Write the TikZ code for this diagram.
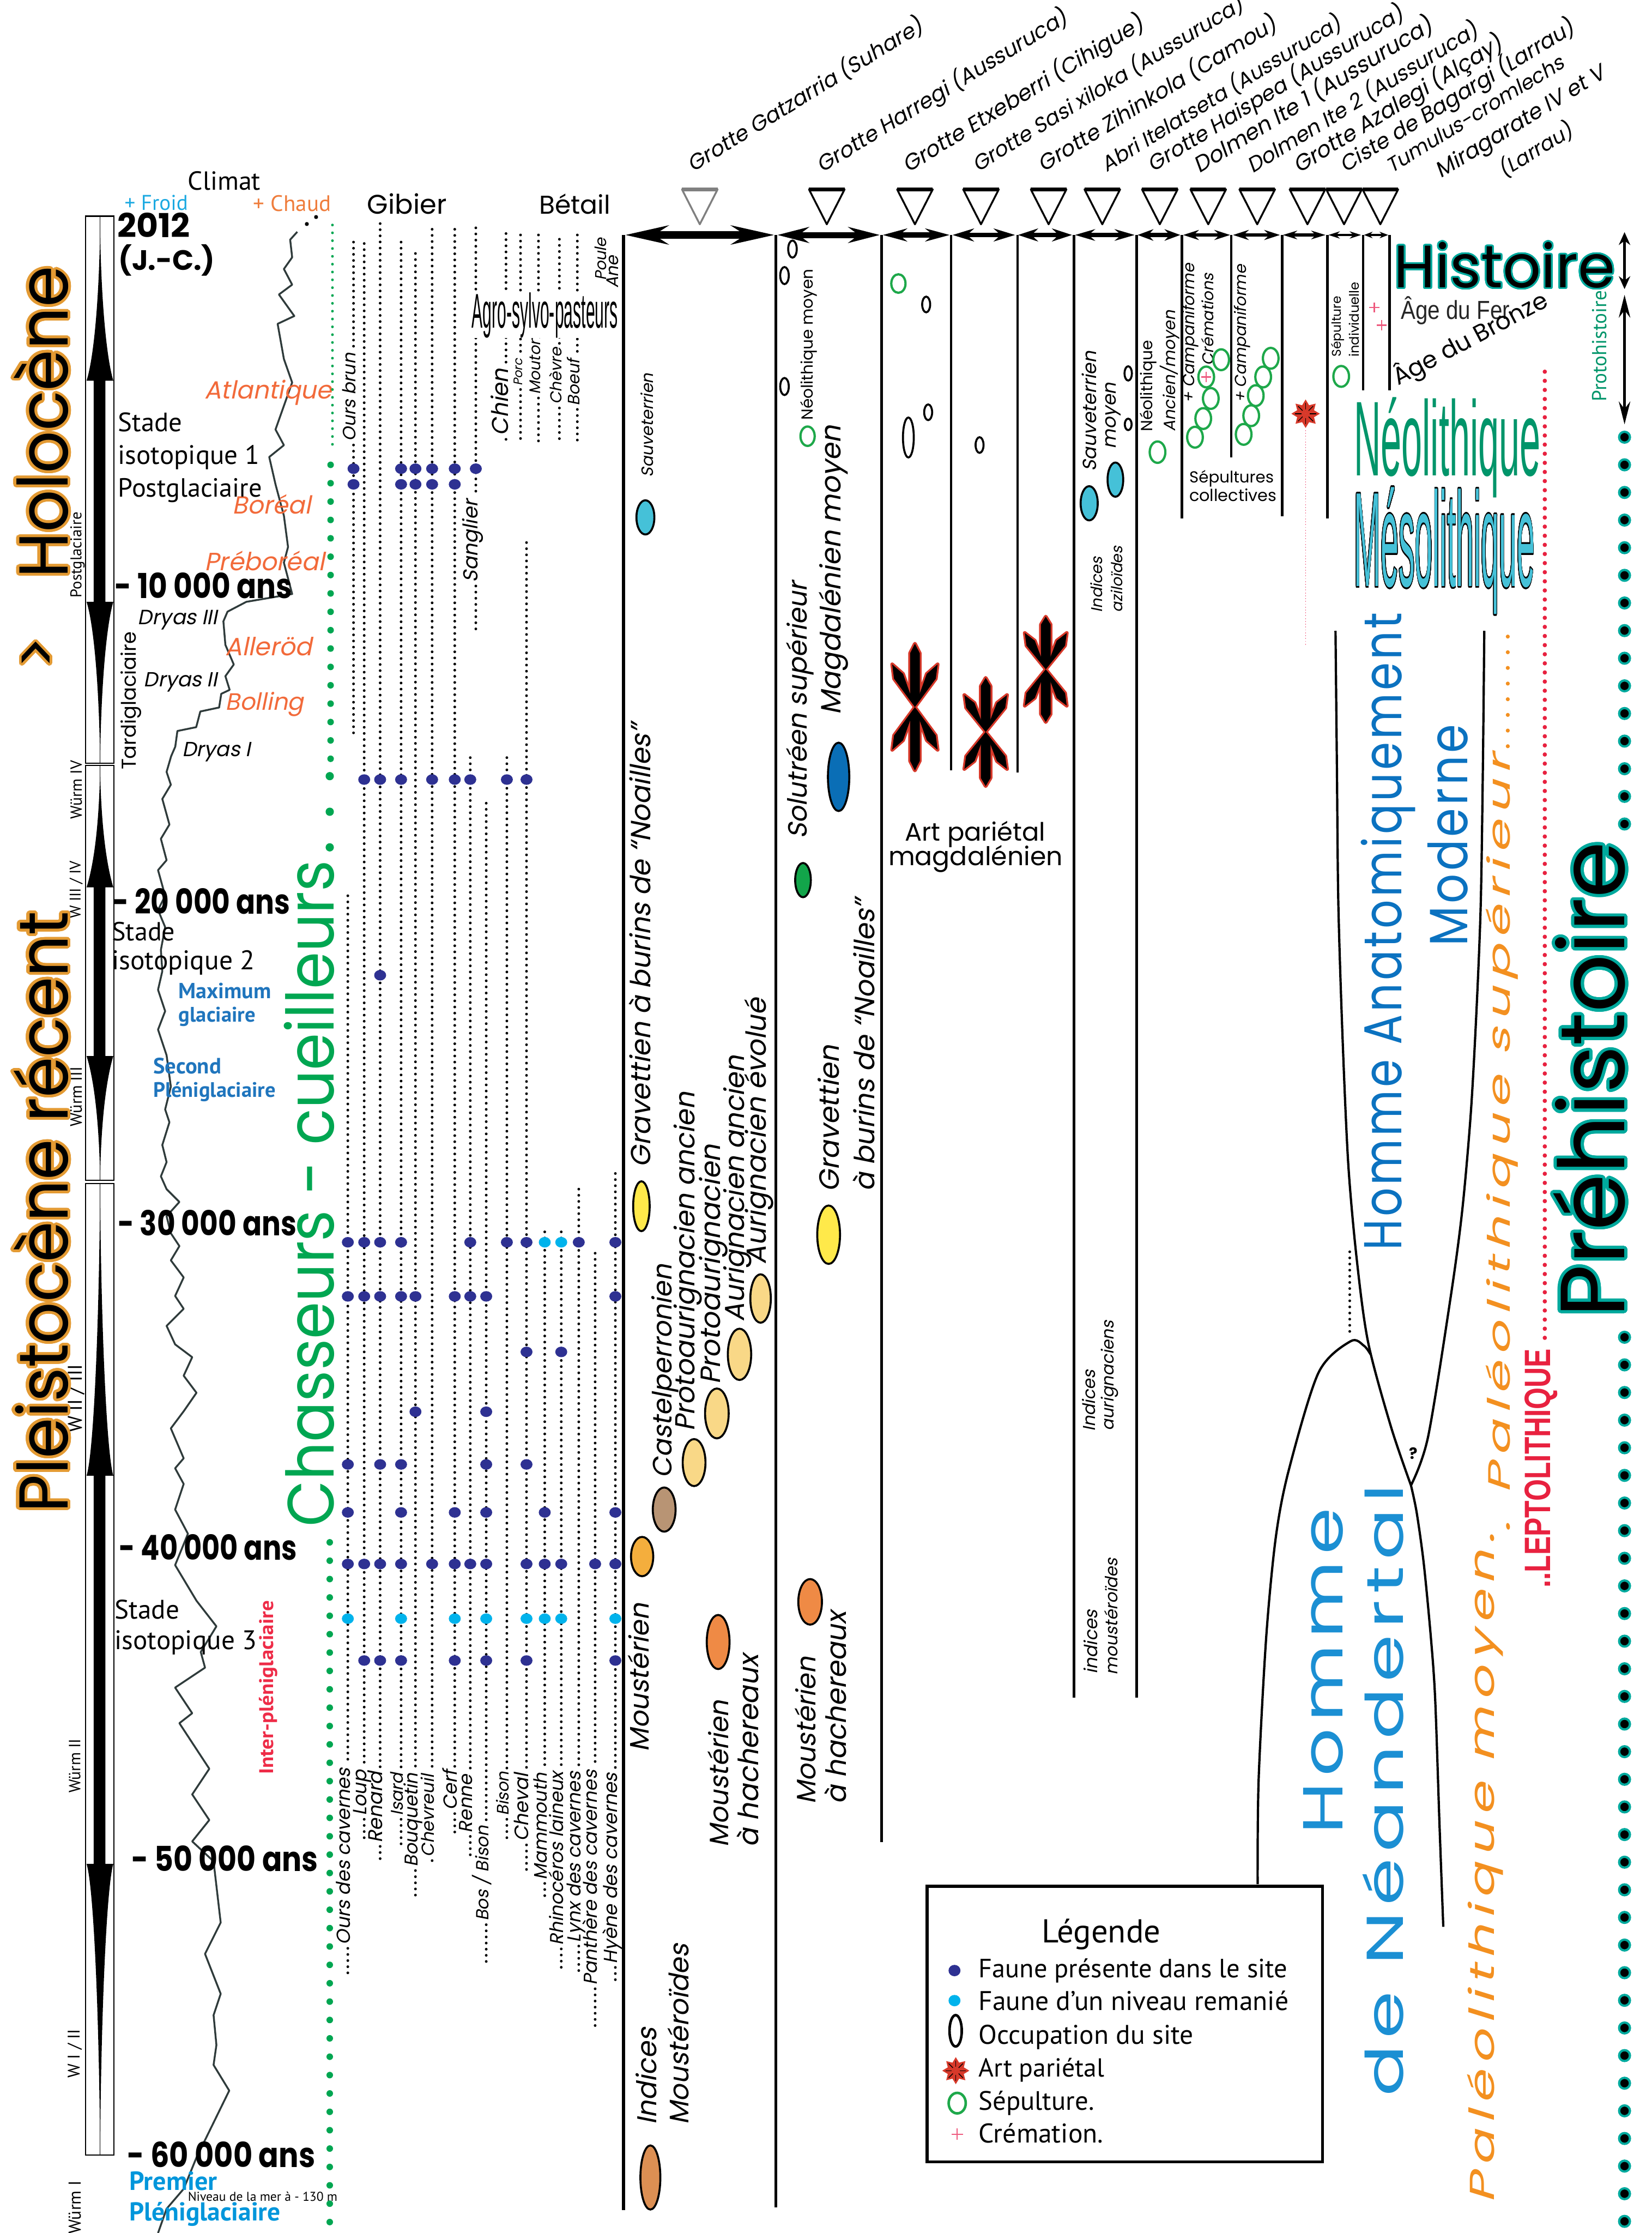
\documentclass[tikz,border=0pt]{standalone}
\usepackage{fontspec}
\usepackage{graphicx}
\usepackage{contour}
\usetikzlibrary{arrows.meta}
\setmainfont{Poppins}
\newfontfamily\pop{Poppins}
\newfontfamily\popit{Poppins}[FakeSlant=0.2]
\newfontfamily\myr{PT Sans}
\newfontfamily\nar{Liberation Sans}
\contournumber{32}
\definecolor{navy}{HTML}{2E3192}
\definecolor{cyandot}{HTML}{00B3EC}
\definecolor{orlab}{HTML}{F26A3A}
\definecolor{holo}{HTML}{E39A33}
\definecolor{froid}{HTML}{1BA9E1}
\definecolor{chaud}{HTML}{EF7D3C}
\definecolor{bluelab}{HTML}{1F75BD}
\definecolor{blue2}{HTML}{0096DB}
\definecolor{redlab}{HTML}{EE2B47}
\definecolor{greenc}{HTML}{00A651}
\definecolor{sepgreen}{HTML}{1EA84A}
\definecolor{pinkx}{HTML}{EE5A7E}
\definecolor{artred}{HTML}{D7392A}
\definecolor{cyanell}{HTML}{45C1D8}
\definecolor{yellowell}{HTML}{FFE94A}
\definecolor{paleyel}{HTML}{F9D887}
\definecolor{orangell}{HTML}{F4AE3D}
\definecolor{brownell}{HTML}{B89474}
\definecolor{orange2}{HTML}{EF8A45}
\definecolor{tanell}{HTML}{DC8F53}
\definecolor{blueell}{HTML}{0A6EB6}
\definecolor{greenell}{HTML}{12A54A}
\definecolor{neogreen}{HTML}{00956A}
\definecolor{teal2}{HTML}{00A99D}
\definecolor{hamblue}{HTML}{0B72C0}
\definecolor{neablue}{HTML}{1B8FD3}
\definecolor{paleo}{HTML}{F39020}
\definecolor{lepto}{HTML}{E8213F}
\definecolor{curvec}{HTML}{2F3B3B}
\newcommand\fitw[2]{\resizebox{#1pt}{!}{#2}}
\newcommand\fitwh[3]{\resizebox{#1pt}{#2pt}{#3}}
\tikzset{
 dotcol/.style={line width=1.9pt, dash pattern=on 0pt off 4.3pt, line cap=round},
 colline/.style={line width=1.8pt},
 occ/.style={draw=black, line width=1.4pt, fill=white},
 sepul/.style={draw=sepgreen, line width=1.6pt},
 cult/.style={draw=black, line width=1.4pt},
 tx/.style={inner sep=0pt, outer sep=0pt},
 rt/.style={inner sep=0pt, outer sep=0pt, rotate=90},
}
\newcommand\animal[6]{%
  \draw[dotcol] (#1,#2) -- (#1,#4-#5-2.5);
  \draw[dotcol] (#1,#4+2.5) -- (#1,#3);
  \node[tx, rotate=90, anchor=base west] at (#1+1.5,#4) {\fitw{#5}{\popit #6}};}
\newcommand\bararrow[4]{%
 \fill (70.3,#1) .. controls (71,{#1+0.5*(#2-#1)}) and (75,{#2-15}) .. (79.6,#2) -- (74,#2) -- (74,#3) -- (79.6,#3)
   .. controls (75,{#3+15}) and (71,{#4-0.5*(#4-#3)}) .. (70.3,#4)
   .. controls (69.6,{#4-0.5*(#4-#3)}) and (65.6,{#3+15}) .. (60.8,#3) -- (65.8,#3) -- (65.8,#2) -- (60.8,#2)
   .. controls (65.6,{#2-15}) and (69.6,{#1+0.5*(#2-#1)}) .. (70.3,#1) -- cycle;}
\newcommand\artstar[6]{%
 \pgfmathsetmacro\angB{180-#4}\pgfmathsetmacro\angC{180+#4}\pgfmathsetmacro\angD{-#4}%
 \begin{scope}[shift={(#1,#2)}]
  \foreach \r in {90,-90} \draw[artred,line width=2.6pt,line join=round,rotate=\r] (0,0) -- (0.2*#3,3.4) -- (0.85*#3,3.4) -- (#3,0) -- (0.85*#3,-3.4) -- (0.2*#3,-3.4) -- cycle;
  \foreach \r in {#4,\angB,\angC,\angD} \draw[artred,line width=2.6pt,line join=round,rotate=\r] (0,0) -- (0.72*#5,#6) -- (#5,0) -- (0.72*#5,-#6) -- cycle;
  \foreach \r in {90,-90} \fill[black,rotate=\r] (0,0) -- (0.2*#3,3.4) -- (0.85*#3,3.4) -- (#3,0) -- (0.85*#3,-3.4) -- (0.2*#3,-3.4) -- cycle;
  \foreach \r in {#4,\angB,\angC,\angD} \fill[black,rotate=\r] (0,0) -- (0.72*#5,#6) -- (#5,0) -- (0.72*#5,-#6) -- cycle;
 \end{scope}}
\newcommand\redstar[3]{%
 \begin{scope}[shift={(#1,#2)}]
  \foreach \r in {0,45,...,315} \fill[artred,rotate=\r] (0,0) -- (0.5*#3,0.3*#3) -- (#3,0) -- (0.5*#3,-0.3*#3) -- cycle;
  \foreach \r in {0,45,...,315} \draw[black,line width=0.5pt,rotate=\r] (0.3*#3,0) -- (0.75*#3,0);
 \end{scope}}
\begin{document}
\begin{tikzpicture}[x=1pt,y=-1pt]
\useasboundingbox (0,0) rectangle (1160,1568);
\fill[white] (0,0) rectangle (1160,1568);

% ---------- chronology bar ----------
\foreach \a/\b in {151.8/536, 537.4/828.7, 831.2/1513.3} {
  \draw[line width=0.8pt] (60,\a) rectangle (80,\b);
  \draw[line width=0.6pt] (70.3,\a) -- (70.3,\b);
}
\bararrow{158.7}{267.3}{422.6}{535.5}
\bararrow{539}{623.1}{741.5}{828.3}
\bararrow{832.5}{1036.2}{1308.8}{1512.5}

% bar labels
\node[rt] at (54.5,389.6) {\fitw{60}{\myr Postglaciaire}};
\node[rt] at (92,492) {\fitw{97}{\pop Tardiglaciaire}};
\node[rt] at (53.5,554.5) {\fitw{41}{\myr Würm IV}};
\node[rt] at (53.5,624.7) {\fitw{40.5}{\myr W III / IV}};
\node[rt] at (53.5,770) {\fitw{42}{\myr Würm III}};
\node[rt] at (53.5,982) {\fitw{48}{\myr W II / III}};
\node[rt] at (52.5,1240) {\fitw{38}{\myr Würm II}};
\node[rt] at (52.5,1442) {\fitw{34}{\myr W I / II}};
\node[rt] at (52.5,1550) {\fitw{37}{\myr Würm I}};

% big orange titles
\node[tx, rotate=90, anchor=base west] at (47.5,406) {\fitwh{219}{38}{\fontsize{47}{47}\pop\contourlength{1.9pt}\contour{holo}{Holocène}}};
\node[rt] at (29,458.5) {\fitw{23}{\fontsize{47}{47}\pop\contourlength{1.9pt}\contour{holo}{>}}};
\node[tx, rotate=90, anchor=base west] at (47.5,1062) {\fitwh{422}{38}{\fontsize{45}{45}\pop\contourlength{1.9pt}\contour{holo}{Pleistocène récent}}};

% ---------- climate ----------
\node[tx, anchor=base west] at (132,133.4) {\fitw{51}{\myr Climat}};
\node[tx, anchor=base west, text=froid] at (87.5,147.5) {\fitw{44.5}{\myr + Froid}};
\node[tx, anchor=base west, text=chaud] at (178,148.2) {\fitw{54.5}{\myr + Chaud}};
\node[tx, anchor=base west] at (82.5,166.8) {\fitwh{51}{17.3}{\pop\bfseries 2012}};
\node[tx, anchor=base west] at (83.3,189.5) {\fitw{67.7}{\pop\bfseries (J.-C.)}};

\fill (215.5,157.3) circle (1.4); \fill (222,152.4) circle (1.4);
\draw[curvec, line width=1.3pt, line join=round] plot coordinates {
(208.8,162.8) (203.8,168.3) (205.2,180.7) (199.4,188.9) (205.2,199.9) (195.9,206.8) (206.7,221.9) (195,227.4) (199.4,252.1) (205.2,268.6) (193.5,301.6) (199.4,312.6) (189.1,320.9) (193.5,340.1) (199.4,362.1) (202.3,384.1) (199.4,395.1) (205.2,417.1) (173,422.6) (159.8,429.5) (156.9,436.3) (158.3,452.8) (164.2,466.6) (158.3,474.8) (161.3,484.4) (155.4,487.2) (153.9,496.8) (140.7,499.6) (137.8,510.6) (124.6,513.3) (123.1,524.3) (120.2,531)
(117,542) (120,551) (114,561) (119,579) (113,589) (117,604) (111,611) (116,629) (111,639) (116,651) (113,667) (114,682) (111,695) (116,710) (111,723) (117,741) (120,763) (116,779) (119,788) (114,804) (117,816) (113,826) (117,835) (126,844) (117,854) (120,866) (126,875) (120,885) (129,897) (123,910) (129,919) (117,931) (123,944) (135,953) (129,966) (138,978) (129,991) (120,1003)
(129,1024) (123,1031) (129,1042) (123,1060) (132,1077) (123,1099) (138,1124) (152,1142) (141,1160) (144,1171) (123,1185) (135,1203) (126,1210) (147,1242) (135,1260) (147,1278) (135,1293) (150,1307) (155,1350) (144,1372) (155,1400) (150,1415) (152,1436) (150,1450) (161,1468) (138,1515) (129,1537) (117,1551) (111,1568)};

% climate phase labels
\node[tx, anchor=base west, text=orlab] at (143.7,280) {\fitw{89.4}{\popit Atlantique}};
\node[tx, anchor=base west, text=orlab] at (163.3,360.7) {\fitw{55}{\popit Boréal}};
\node[tx, anchor=base west, text=orlab] at (143.7,400.6) {\fitw{84.3}{\popit Préboréal}};
\node[tx, anchor=base west] at (96.8,438.5) {\fitw{55.7}{\popit Dryas III}};
\node[tx, anchor=base west, text=orlab] at (158.3,460.5) {\fitw{61}{\popit Alleröd}};
\node[tx, anchor=base west] at (101,482) {\fitw{51.5}{\popit Dryas II}};
\node[tx, anchor=base west, text=orlab] at (158.3,498.5) {\fitw{55}{\popit Bolling}};
\node[tx, anchor=base west] at (128,531) {\fitw{48}{\popit Dryas I}};

% dates
\node[tx, anchor=base west] at (80.6,420) {\fitwh{124.6}{18}{\pop\bfseries - 10 000 ans}};
\node[tx, anchor=base west] at (79,641.8) {\fitwh{124.8}{18}{\pop\bfseries - 20 000 ans}};
\node[tx, anchor=base west] at (82.7,867.6) {\fitwh{125.5}{18}{\pop\bfseries - 30 000 ans}};
\node[tx, anchor=base west] at (83.6,1095.4) {\fitwh{125}{18}{\pop\bfseries - 40 000 ans}};
\node[tx, anchor=base west] at (92.4,1314) {\fitwh{131}{18}{\pop\bfseries - 50 000 ans}};
\node[tx, anchor=base west] at (89.4,1522) {\fitwh{132}{18}{\pop\bfseries - 60 000 ans}};

% stades
\node[tx, anchor=base west] at (83,303) {\fitw{45}{\myr Stade}};
\node[tx, anchor=base west] at (83,326) {\fitw{99.4}{\myr isotopique 1}};
\node[tx, anchor=base west] at (83,349) {\fitw{101}{\myr Postglaciaire}};
\node[tx, anchor=base west] at (78.6,660.5) {\fitw{44.4}{\myr Stade}};
\node[tx, anchor=base west] at (78.6,681) {\fitw{100.3}{\myr isotopique 2}};
\node[tx, anchor=base west] at (80.6,1136.6) {\fitw{45.4}{\myr Stade}};
\node[tx, anchor=base west] at (80.6,1158) {\fitw{99.7}{\myr isotopique 3}};
\node[tx, anchor=base west, text=bluelab] at (125.5,701) {\fitw{65}{\myr\bfseries Maximum}};
\node[tx, anchor=base west, text=bluelab] at (125.5,717.5) {\fitw{54}{\myr\bfseries glaciaire}};
\node[tx, anchor=base west, text=bluelab] at (107.6,754) {\fitw{47.8}{\myr\bfseries Second}};
\node[tx, anchor=base west, text=bluelab] at (107.6,770.5) {\fitw{86}{\myr\bfseries Pléniglaciaire}};
\node[tx, anchor=base west, text=blue2] at (91,1538) {\fitw{61.5}{\myr\bfseries Premier}};
\node[tx, anchor=base west, text=blue2] at (91,1559.5) {\fitw{106}{\myr\bfseries Pléniglaciaire}};
\node[tx, anchor=base west] at (132,1545.5) {\fitw{105}{\myr Niveau de la mer à - 130 m}};
\node[tx, rotate=90, anchor=base west, text=redlab] at (192,1246) {\fitwh{122}{10}{\myr\bfseries Inter-pléniglaciaire}};

% ---------- chasseurs-cueilleurs ----------
\foreach \y in {158,163.5,...,316} \fill[greenc] (233.5,\y) circle (0.95);
\foreach \y in {326.4,339.3,...,534} \fill[greenc] (232.2,\y) circle (2.3);
\foreach \y in {545,570,595} \fill[greenc] (231.6,\y) circle (2.9);
\foreach \y in {1083,1095.9,...,1563} \fill[greenc] (231.6,\y) circle (2.3);
\node[tx, rotate=90, anchor=base west, text=greenc] at (234.6,1072) {\fitwh{468}{35}{\pop Chasseurs - cueilleurs}};

% ---------- gibier / betail ----------
\node[tx, anchor=base west] at (258,150.4) {\fitw{55.7}{\pop Gibier}};
\node[tx, anchor=base west] at (378.8,150.4) {\fitw{50}{\pop Bétail}};

\animal{244.3}{629}{1388}{1365.6}{124}{Ours des cavernes}
\animal{255.8}{171}{1293}{1275}{32}{Loup}
\animal{267}{157}{1307}{1294}{50}{Renard}
\animal{281.7}{170}{1295}{1275}{30}{Isard}
\animal{291.8}{178}{1333}{1311}{66}{Bouquetin}
\animal{303.5}{161}{1306.5}{1304}{58}{Chevreuil}
\animal{319.4}{161}{1290}{1271}{28}{Cerf}
\animal{330.3}{532}{1306}{1287}{41}{Renne}
\animal{341.5}{564}{1379}{1349}{67}{Bos / Bison}
\animal{356}{532}{1294}{1275}{31}{Bison}
\animal{369.8}{381}{1315}{1293}{48}{Cheval}
\animal{382.6}{865}{1334}{1320}{75}{Mammouth}
\animal{394.2}{865}{1384}{1366}{122}{Rhinocéros laineux}
\animal{406.5}{835}{1386}{1364}{120}{Lynx des cavernes}
\animal{418}{880}{1425}{1394}{151}{Panthère des cavernes}
\animal{432.2}{824}{1393}{1379}{134}{Hyène des cavernes}
\animal{248.3}{170}{516}{310}{62}{Ours brun}
\animal{334.2}{160}{445}{409}{58}{Sanglier}
\animal{355.4}{164}{308.5}{306}{47}{Chien}
\animal{365.6}{165}{310}{271}{19}{Porc}
\animal{378.2}{165}{310}{277}{41}{Mouton}
\animal{392.9}{168}{310}{284}{40}{Chèvre}
\animal{405.5}{165}{310}{285}{33}{Boeuf}
\node[rt] at (422,182) {\fitw{30}{\popit Poule}};
\node[rt] at (430.3,191) {\fitw{23}{\popit Ane}};
\node[tx, anchor=base west, fill=white] at (331.3,230.2) {\fitwh{102.7}{24.8}{\nar Agro-sylvo-pasteurs}};

% faune dots
\foreach \x/\y in {248.3/329.1, 281.7/329.1, 291.8/329.1, 303.5/329.1, 319.4/329.1, 334.2/329.1,
 248.3/340.1, 281.7/340.1, 291.8/340.1, 303.5/340.1, 319.4/340.1,
 255.8/547.4, 267/547.4, 281.7/547.4, 303.5/547.4, 319.4/547.4, 330.3/547.4, 356/547.4, 369.8/547.4,
 267/684.8,
 244.3/872.3, 255.8/872.3, 267/872.3, 281.7/872.3, 330.3/872.3, 356/872.3, 369.8/872.3, 406.5/872.3, 432.2/872.3,
 244.3/910.3, 255.8/910.3, 267/910.3, 281.7/910.3, 291.8/910.3, 319.4/910.3, 330.3/910.3, 341.5/910.3, 432.2/910.3,
 369.8/949.3, 394.2/949.3, 291.8/991.3, 341.5/991.3,
 244.3/1028.3, 267/1028.3, 281.7/1028.3, 341.5/1028.3, 369.8/1028.3,
 244.3/1062, 281.7/1062, 319.4/1062, 341.5/1062, 382.6/1062, 432.2/1062,
 244.3/1098.2, 255.8/1098.2, 267/1098.2, 281.7/1098.2, 303.5/1098.2, 319.4/1098.2, 330.3/1098.2, 341.5/1098.2, 369.8/1098.2, 382.6/1098.2, 394.2/1098.2, 418/1098.2, 432.2/1098.2,
 255.8/1166, 267/1166, 281.7/1166, 319.4/1166, 341.5/1166, 369.8/1166, 432.2/1166}
  \fill[navy] (\x,\y) ellipse (4.2 and 3.7);
\foreach \x/\y in {382.6/872.3, 394.2/872.3, 244.3/1136.6, 281.7/1136.6, 319.4/1136.6, 341.5/1136.6, 369.8/1136.6, 382.6/1136.6, 394.2/1136.6, 432.2/1136.6}
  \fill[cyandot] (\x,\y) ellipse (4.2 and 3.7);

% ---------- sites: triangles, arrows, lines ----------
\foreach \cx in {580.7,642.6,689,736.5,774.2,814.6,848.6,883,918.3,944,969.5}
  \draw[line width=1.3pt, line join=round, fill=white] (\cx-12.5,133) -- (\cx+12.5,133) -- (\cx,157.5) -- cycle;
\foreach \cx in {580.7,642.6,689,736.5,774.2,814.6,848.6,883,918.3,944,969.5}
  \draw[line width=2.6pt] (\cx-12.5,133) -- (\cx+12.5,133);
\draw[gray, line width=1.3pt, line join=round, fill=white] (479,133) -- (504,133) -- (491.5,157.5) -- cycle;
\draw[gray, line width=2.6pt] (479,133) -- (504,133);

\draw[line width=5pt, {Stealth[length=30pt,width=13pt]}-{Stealth[length=30pt,width=13pt]}] (439,165) -- (544,165);
\draw[line width=4.2pt, {Stealth[length=22pt,width=11pt]}-{Stealth[length=22pt,width=11pt]}] (546,165) -- (618,165);
\draw[line width=3.5pt, {Stealth[length=17pt,width=9pt]}-{Stealth[length=17pt,width=9pt]}] (620,165) -- (667,165);
\draw[line width=3.2pt, {Stealth[length=15pt,width=9pt]}-{Stealth[length=15pt,width=9pt]}] (669,165) -- (713,165);
\draw[line width=3.2pt, {Stealth[length=14pt,width=9pt]}-{Stealth[length=14pt,width=9pt]}] (715,165) -- (753,165);
\draw[line width=3pt, {Stealth[length=14pt,width=8pt]}-{Stealth[length=14pt,width=8pt]}] (755,165) -- (797,165);
\draw[line width=2.8pt, {Stealth[length=11pt,width=8pt]}-{Stealth[length=11pt,width=8pt]}] (799,165) -- (829,165);
\draw[line width=2.4pt, {Stealth[length=11pt,width=7pt]}-{Stealth[length=11pt,width=7pt]}] (831,165) -- (864,165);
\draw[line width=2.4pt, {Stealth[length=11pt,width=7pt]}-{Stealth[length=11pt,width=7pt]}] (866,165) -- (899,165);
\draw[line width=2pt, {Stealth[length=10pt,width=6pt]}-{Stealth[length=10pt,width=6pt]}] (901,165) -- (931,165);
\draw[line width=1.8pt, {Stealth[length=8pt,width=5pt]}-{Stealth[length=8pt,width=5pt]}] (933,165) -- (956,165);
\draw[line width=1.6pt, {Stealth[length=6pt,width=4.5pt]}-{Stealth[length=6pt,width=4.5pt]}] (958,165) -- (975,165);

\draw[line width=2.2pt] (438,165) -- (438,1552);
\draw[colline] (545,165) -- (545,1550);
\draw[colline] (619.3,165) -- (619.3,1293.6);
\draw[colline] (668,165) -- (668,541);
\draw[colline] (714.7,165) -- (714.7,542.4);
\draw[colline] (754.2,165) -- (754.2,1192);
\draw[colline] (798.4,165) -- (798.4,1192);
\draw[colline] (830,165) -- (830,364);
\draw[colline] (864.8,165) -- (864.8,321);
\draw[colline] (900.6,165) -- (900.6,362.5);
\draw[colline] (932.3,165) -- (932.3,364);
\draw[colline] (957.4,165) -- (957.4,274);
\draw[colline] (976,165) -- (976,274);

% site names
\node[tx, rotate=31.5, anchor=base west] at (486.8,121) {\fitw{191}{\popit Grotte Gatzarria (Suhare)}};
\node[tx, rotate=31.5, anchor=base west] at (577.5,121.6) {\fitw{203.6}{\popit Grotte Harregi (Aussuruca)}};
\node[tx, rotate=31.5, anchor=base west] at (637.9,121.6) {\fitw{195.4}{\popit Grotte Etxeberri (Cihigue)}};
\node[tx, rotate=31.5, anchor=base west] at (686.8,121) {\fitw{220.2}{\popit Grotte Sasi xiloka (Aussuruca)}};
\node[tx, rotate=31.5, anchor=base west] at (733,121) {\fitw{193.5}{\popit Grotte Zihinkola (Camou)}};
\node[tx, rotate=31.5, anchor=base west] at (777.4,121) {\fitw{194.7}{\popit Abri Itelatseta (Aussuruca)}};
\node[tx, rotate=31.5, anchor=base west] at (810,121) {\fitw{207.6}{\popit Grotte Haispea (Aussuruca)}};
\node[tx, rotate=31.5, anchor=base west] at (842.5,122) {\fitw{193.6}{\popit Dolmen Ite 1 (Aussuruca)}};
\node[tx, rotate=31.5, anchor=base west] at (879.7,122) {\fitw{187.4}{\popit Dolmen Ite 2 (Aussuruca)}};
\node[tx, rotate=31.5, anchor=base west] at (912.3,122) {\fitw{169.4}{\popit Grotte Azalegi (Alçay)}};
\node[tx, rotate=31.5, anchor=base west] at (944.8,121.6) {\fitw{190.3}{\popit Ciste de Bagargi (Larrau)}};
\node[tx, rotate=31.5, anchor=base west] at (977.4,122) {\fitw{143.5}{\popit Tumulus-cromlechs}};
\node[tx, rotate=31.5, anchor=base west] at (1012,125.4) {\fitw{136.7}{\popit Miragarate IV et V}};
\node[tx, rotate=31.5, anchor=base west] at (1056.4,124.9) {\fitw{58}{\popit (Larrau)}};

% ---------- column 1 ----------
\node[rt] at (454.3,298.7) {\fitw{73}{\popit Sauveterrien}};
\draw[cult, fill=cyanell] (453.3,363.3) ellipse (6.3 and 12);
\node[rt] at (449.5,664) {\fitw{311.5}{\popit Gravettien à burins de “Noailles”}};
\draw[cult, fill=yellowell] (450.5,847) ellipse (5.8 and 17.5);
\node[rt] at (467,963) {\fitw{150}{\popit Castelperronien}};
\node[rt] at (483,886) {\fitw{238}{\popit Protoaurignacien ancien}};
\node[rt] at (501,888) {\fitw{168.6}{\popit Protoaurignacien}};
\node[rt] at (518,834.6) {\fitw{187}{\popit Aurignacien ancien}};
\node[rt] at (533,794.5) {\fitw{187}{\popit Aurignacien évolué}};
\draw[cult, fill=paleyel] (487.5,1027) ellipse (8 and 16.5);
\draw[cult, fill=paleyel] (503.5,992.5) ellipse (8.3 and 17.5);
\draw[cult, fill=paleyel] (519.4,951) ellipse (8.2 and 18);
\draw[cult, fill=paleyel] (534.2,911.8) ellipse (7.2 and 17);
\draw[cult, fill=brownell] (466.5,1060) ellipse (8 and 15.5);
\draw[cult, fill=orangell] (451,1093) ellipse (7.8 and 13.8);
\node[rt] at (448.5,1178) {\fitw{104}{\popit Moustérien}};
\draw[cult, fill=orange2] (504.4,1153) ellipse (8 and 19);
\node[rt] at (504.5,1245.5) {\fitw{103}{\popit Moustérien}};
\node[rt] at (525,1229.5) {\fitw{135}{\popit à hachereaux}};
\node[rt] at (454,1458) {\fitw{68}{\popit Indices}};
\node[rt] at (476.5,1428.5) {\fitw{127}{\popit Moustéroïdes}};
\draw[cult, fill=tanell] (456.8,1529) ellipse (7 and 22.5);

% ---------- column 2 ----------
\draw[occ] (556.6,174.9) ellipse (3 and 6);
\draw[occ] (551,193.5) ellipse (3 and 6);
\draw[occ] (551,271.4) ellipse (3 and 6);
\node[rt] at (568,242) {\fitw{106}{\pop Néolithique moyen}};
\draw[sepul] (567.2,306.3) ellipse (5 and 6.8);
\node[rt] at (562,498.8) {\fitw{180.5}{\popit Solutréen supérieur}};
\node[rt] at (585.5,400.5) {\fitw{203}{\popit Magdalénien moyen}};
\draw[cult, fill=blueell] (589,545.5) ellipse (7.5 and 24);
\draw[cult, fill=greenell] (564,618) ellipse (5.5 and 12);
\node[rt] at (582,785.5) {\fitw{103}{\popit Gravettien}};
\node[rt] at (606.5,734) {\fitw{205.5}{\popit à burins de “Noailles”}};
\draw[cult, fill=yellowell] (582,867) ellipse (8 and 20.5);
\draw[cult, fill=orange2] (569,1124.8) ellipse (8.3 and 16);
\node[rt] at (565.5,1215.3) {\fitw{103.4}{\popit Moustérien}};
\node[rt] at (586.7,1199.3) {\fitw{135.4}{\popit à hachereaux}};

% ---------- columns 3-5 ----------
\draw[sepul] (631,199.1) ellipse (5 and 6.5);
\draw[occ] (650.5,213.8) ellipse (2.8 and 5.5);
\draw[occ] (651.9,289.5) ellipse (2.8 and 5.5);
\draw[occ] (638,307.2) ellipse (3.8 and 14);
\draw[occ] (688,312.5) ellipse (2.8 and 5.5);
\artstar{642.6}{496.5}{44.5}{62}{34}{3.6}
\artstar{692.3}{514}{38}{60}{30}{3.4}
\artstar{734.5}{470}{37}{60}{29.5}{3.4}
\node[tx] at (684.9,586) {\fitw{98.6}{\pop Art pariétal}};
\node[tx] at (685.2,603) {\fitw{122.3}{\pop magdalénien}};

% ---------- column 6 ----------
\node[rt] at (765,288.8) {\fitw{84.5}{\popit Sauveterrien}};
\node[rt] at (782,292) {\fitw{46.3}{\popit moyen}};
\draw[occ] (792.4,262.2) ellipse (2.6 and 5);
\draw[occ] (792.4,298) ellipse (2.4 and 4);
\draw[cult, fill=cyanell] (765,353.4) ellipse (6 and 12);
\draw[cult, fill=cyanell] (783.4,336.8) ellipse (5.5 and 12);
\node[rt] at (770,410.5) {\fitw{39}{\popit Indices}};
\node[rt] at (784.5,406.8) {\fitw{46.4}{\popit aziloïdes}};
\node[rt] at (764.8,983.5) {\fitw{43}{\popit Indices}};
\node[rt] at (779.4,966) {\fitw{77.5}{\popit aurignaciens}};
\node[rt] at (766,1153) {\fitw{45}{\popit indices}};
\node[rt] at (780.5,1135) {\fitw{82}{\popit moustéroïdes}};

% ---------- columns 7-12 ----------
\node[rt] at (806.3,271) {\fitw{64}{\pop Néolithique}};
\node[rt] at (821.5,260.5) {\fitw{85}{\popit Ancien/moyen}};
\draw[sepul] (813,317.5) ellipse (5.5 and 7.5);
\node[rt] at (836,234) {\fitw{97.8}{\popit + Campaniforme}};
\node[rt] at (847.9,224.3) {\fitw{64.6}{\popit Crémations}};
\foreach \x/\y in {839.3/307, 845.1/293.9, 850.4/279.8, 847.2/264.7, 857.7/252.6, 873.5/305, 878.8/291.9, 882/277.8, 887.2/264.7, 892.5/251.6, 942/264.3}
  \draw[sepul] (\x,\y) ellipse (5.5 and 7.3);
\node[tx] at (865,336.2) {\fitw{59.3}{\pop Sépultures}};
\node[tx] at (866,347.7) {\fitw{61.4}{\pop collectives}};
\node[rt] at (872.3,234.4) {\fitw{96.8}{\popit + Campaniforme}};
\redstar{917}{290.5}{10}
\draw[pinkx, line width=0.6pt, dash pattern=on 0.7pt off 1.3pt] (917,302) -- (917,453);
\node[rt] at (939.4,229.3) {\fitw{42.5}{\pop Sépulture}};
\node[rt] at (951.2,224.3) {\fitw{52.5}{\pop individuelle}};
\foreach \x/\y in {847.2/264.7, 965.2/215.9, 970.5/228.4}
  \draw[pinkx, line width=0.9pt] (\x-3.5,\y) -- (\x+3.5,\y) (\x,\y-3.5) -- (\x,\y+3.5);

% ---------- right side periods ----------
\node[tx, anchor=base west] at (979,202) {\fitw{155.4}{\fontsize{42}{42}\pop\contourlength{1.2pt}\contour{teal2}{Histoire}}};
\draw[line width=2.2pt, {Stealth[length=9pt,width=8pt]}-{Stealth[length=9pt,width=8pt]}] (1141,163) -- (1141,203);
\draw[line width=2.2pt, {Stealth[length=16pt,width=8pt]}-{Stealth[length=16pt,width=8pt]}] (1141,207) -- (1141,298);
\node[rt, text=neogreen] at (1123.5,243) {\fitw{77.8}{\myr Protohistoire}};
\node[tx, anchor=base west, text=black!85] at (984,224) {\fitwh{76.5}{16}{\nar Âge du Fer}};
\node[tx, rotate=27.9, anchor=base west] at (982,271) {\fitw{120.5}{\pop Âge du Bronze}};
\node[tx, anchor=base west, text=neogreen] at (951,334) {\fitwh{131}{55}{\nar Néolithique}};
\node[tx, anchor=base west, text=cyanell] at (951,411.8) {\fitwh{127}{69.5}{\nar\contourlength{0.12pt}\contour{black}{Mésolithique}}};

\foreach \y in {261,267.4,...,942} \fill[lepto] (1085,\y) circle (1.5);
\node[tx, rotate=90, anchor=base west, text=lepto] at (1089,1115) {\fitwh{168}{18}{\nar\bfseries ..LEPTOLITHIQUE}};

\foreach \y in {307,326.4,...,581} \draw[fill=black, draw=teal2, line width=1.6pt] (1141,\y) circle (3.8);
\foreach \y in {939,958.4,...,1561} \draw[fill=black, draw=teal2, line width=1.6pt] (1141,\y) circle (3.8);
\node[tx, rotate=90, anchor=base west] at (1141,925) {\fitw{334}{\fontsize{65}{65}\pop\contourlength{2.2pt}\contour{teal2}{Préhistoire}}};

% ---------- hominids ----------
\node[rt, text=hamblue] at (975,654) {\fitwh{448}{28.5}{\pop\addfontfeatures{LetterSpace=6}Homme Anatomiquement}};
\node[rt, text=hamblue] at (1017,586.5) {\fitwh{155.7}{28}{\pop\addfontfeatures{LetterSpace=6}Moderne}};
\node[rt, text=neablue] at (929.5,1173.5) {\fitwh{229}{27.6}{\pop\addfontfeatures{LetterSpace=8}Homme}};
\node[rt, text=neablue] at (971.6,1257) {\fitwh{430}{28.5}{\pop\addfontfeatures{LetterSpace=8}de Néandertal}};
\node[rt, text=paleo] at (1043.3,1312) {\fitwh{471}{19}{\popit\addfontfeatures{LetterSpace=12}Paléolithique moyen.}};
\node[rt, text=paleo] at (1055,803) {\fitwh{546}{17}{\popit\addfontfeatures{LetterSpace=12}. Paléolithique supérieur}};
\foreach \y in {447,458,...,525} \fill[paleo] (1059,\y) circle (1.4);

\draw[line width=1.6pt] plot[smooth] coordinates {(938,443) (939,540) (940,635) (943,730) (947,818) (953,885) (961,943) (977,1002) (991,1043)};
\draw[line width=1.6pt] plot[smooth] coordinates {(1042.5,443) (1041.5,540) (1040,635) (1037,710) (1033,782) (1027,850) (1019,910) (1003,1009) (991,1043)};
\draw[line width=1.6pt] plot[smooth] coordinates {(883.3,1323) (884,1250) (889.3,1150) (896,1080) (905,1033) (926,964) (948.6,941.8) (958,945) (962.6,951)};
\draw[line width=1.6pt] plot[smooth] coordinates {(991,1043) (995,1062) (1000,1098) (1005,1150) (1008,1193) (1011,1280) (1013.7,1353)};
\draw[dotcol] (948,879) -- (948,937);
\node[tx] at (992.6,1020.4) {\fontsize{11}{11}\pop\bfseries ?};

% ---------- legend ----------
\draw[line width=2.2pt, fill=white] (651.2,1324.4) rectangle (928.9,1518);
\node[tx, anchor=base west] at (731.8,1364) {\fitw{83.4}{\myr Légende}};
\node[tx, anchor=base west] at (687.3,1388.5) {\fitw{217}{\myr Faune présente dans le site}};
\node[tx, anchor=base west] at (687.3,1411.6) {\fitw{217.8}{\myr Faune d’un niveau remanié}};
\node[tx, anchor=base west] at (687.3,1435.3) {\fitw{150.9}{\myr Occupation du site}};
\node[tx, anchor=base west] at (687.3,1458.4) {\fitw{88.5}{\myr Art pariétal}};
\node[tx, anchor=base west] at (687.3,1481.6) {\fitw{81.2}{\myr Sépulture.}};
\node[tx, anchor=base west] at (687.3,1504.6) {\fitw{87.6}{\myr Crémation.}};
\fill[navy] (670.4,1383.7) ellipse (4.2 and 4);
\fill[cyandot] (670.4,1404.8) ellipse (4.2 and 4);
\draw[black, line width=1.8pt] (671.2,1426) ellipse (4.3 and 11);
\redstar{671.3}{1454}{9.5}
\draw[sepul, line width=1.8pt] (672.3,1476.8) ellipse (6 and 7.2);
\draw[pinkx, line width=0.8pt] (668.3,1498.6) -- (676.3,1498.6) (672.3,1494.6) -- (672.3,1502.6);
\end{tikzpicture}
\end{document}
